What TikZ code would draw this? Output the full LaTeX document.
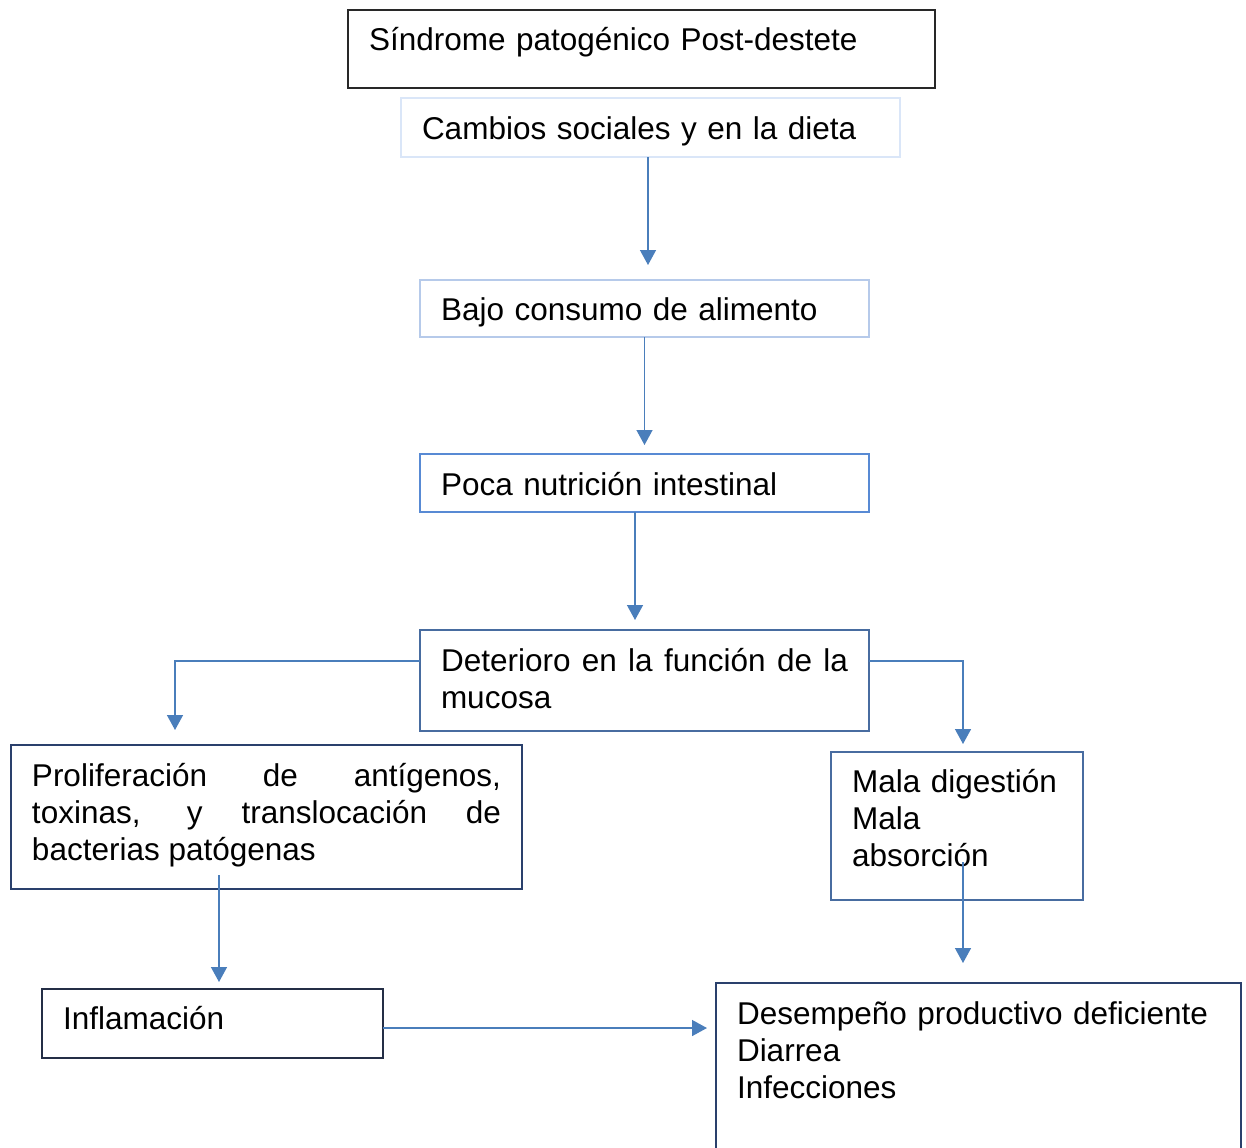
\documentclass[tikz,border=0pt]{standalone}
\usepackage{fontspec}
\setmainfont{Liberation Sans}
\usepackage{xcolor}
\usetikzlibrary{arrows.meta,positioning}
\definecolor{arrowblue}{RGB}{74,126,187}
\definecolor{edgepale}{RGB}{218,230,248}
\definecolor{edgelight}{RGB}{182,202,234}
\definecolor{edgemid}{RGB}{88,138,212}
\definecolor{edgesteel}{RGB}{72,108,160}
\definecolor{edgenavy}{RGB}{42,64,108}
\definecolor{edgeink}{RGB}{36,46,70}
\definecolor{edgegray}{RGB}{40,40,40}

\begin{document}
\begin{tikzpicture}[
  x=0.5pt, y=-0.5pt,
  blk/.style={draw, anchor=north west, line width=0.75pt, inner xsep=10.5pt, inner ysep=0pt, outer sep=0pt, align=left, font=\fontsize{15.75}{18.5}\selectfont},
  arr/.style={draw=arrowblue, line width=0.7pt, -{Triangle[length=7.5pt,width=8pt]}}
]
\useasboundingbox (0,0) rectangle (1246,1147);
\node[blk, draw=edgegray, text width=272.5pt, text height=20pt, text depth=19pt] (sind) at (348,10) {Síndrome patogénico Post-destete};
\node[blk, draw=edgepale, text width=228.5pt, text height=20.5pt, text depth=9pt] (camb) at (401,98) {Cambios sociales y en la dieta};
\node[blk, draw=edgelight, text width=203.5pt, text height=20pt, text depth=8.5pt] (bajo) at (420,280) {Bajo consumo de alimento};
\node[blk, draw=edgemid, text width=203.5pt, text height=20.5pt, text depth=8.5pt] (poca) at (420,454) {Poca nutrición intestinal};
\node[blk, draw=edgesteel, text width=203.5pt, text height=20.5pt, text depth=30pt, align=justify] (det) at (420,630) {Deterioro en la función de la mucosa};
\node[blk, draw=edgenavy, text width=234.5pt, text height=20.5pt, text depth=51.5pt, align=justify] (prolif) at (11,745) {Proliferación de antígenos,\linebreak toxinas, y translocación de\linebreak bacterias patógenas};
\node[blk, draw=edgesteel, text width=105pt, text height=20pt, text depth=54pt] (mala) at (831,752) {Mala digestión\\Mala\\absorción};
\node[blk, draw=edgeink, text width=149.5pt, text height=20pt, text depth=14.5pt] (inflam) at (42,989) {Inflamación};
\node[blk, draw=edgenavy, text width=241.5pt, text height=20.5pt, text depth=68pt] (desemp) at (716,983) {Desempeño productivo deficiente\\Diarrea\\Infecciones};
% connectors
\coordinate (infout) at ([yshift=-2.25pt]inflam.east);
\draw[arr, shorten >=7.5pt] ([xshift=-1.25pt]camb.south) -- ([xshift=-1.25pt]camb.south |- bajo.north);
\draw[arr, shorten >=4.5pt] (bajo.south) -- (bajo.south |- poca.north);
\draw[arr, shorten >=5pt] ([xshift=-4.75pt]poca.south) -- ([xshift=-4.75pt]poca.south |- det.north);
\draw[arr, shorten >=7.5pt] ([yshift=9.75pt]det.west) -| ([xshift=-45.75pt]prolif.north);
\draw[arr, shorten >=4pt] ([yshift=9.75pt]det.east) -| ([xshift=3pt]mala.north);
\draw[arr, shorten >=3.5pt] ([xshift=-23.75pt,yshift=7pt]prolif.south) -- ([xshift=3.25pt]inflam.north);
\draw[arr, shorten >=10pt] ([xshift=3pt,yshift=19pt]mala.south) -- ([xshift=-7.75pt]desemp.north);
\draw[arr, shorten >=4.5pt] (infout) -- (infout -| desemp.west);
\end{tikzpicture}
\end{document}
